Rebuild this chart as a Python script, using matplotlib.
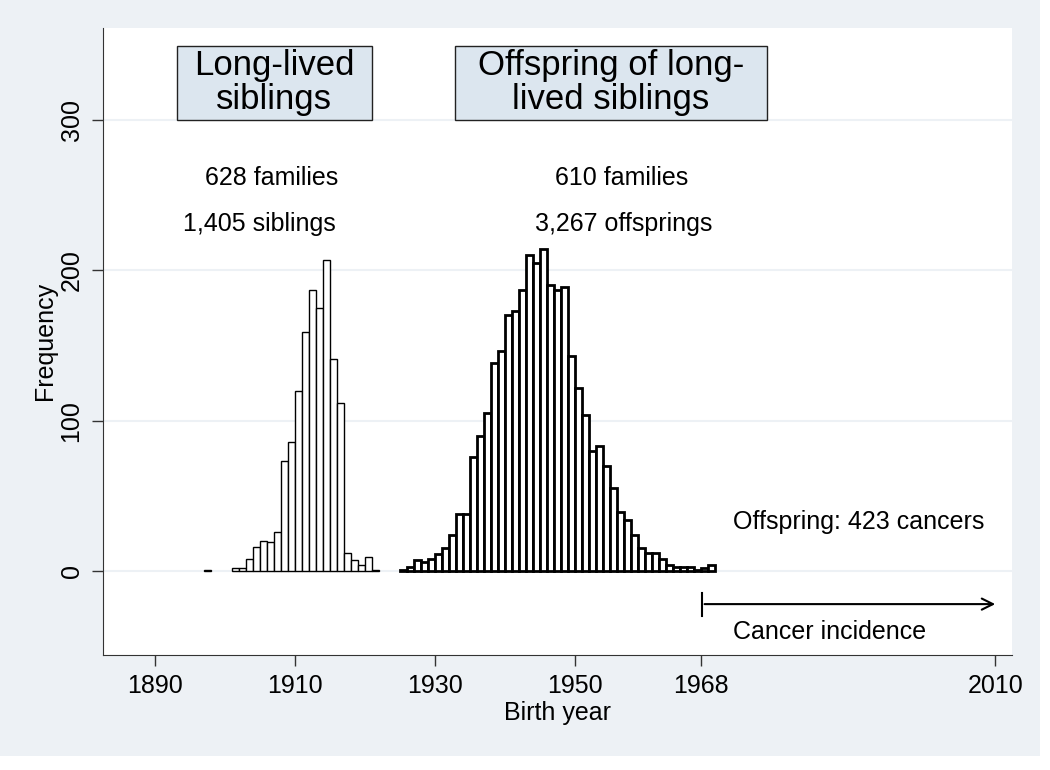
import matplotlib.pyplot as plt
from matplotlib.patches import Rectangle

# anos (borda esquerda de cada barra, largura 1 ano) e frequencias
sib_years = [1897] + list(range(1901, 1922))
sib_freq = [1, 2, 2, 8, 16, 20, 19, 26, 73, 86, 120, 159, 187, 175, 207, 141, 112, 12, 7, 4, 9, 1]

off_years = list(range(1925, 1970))
off_freq = [1, 3, 7, 6, 8, 11, 15, 24, 38, 38, 76, 90, 105, 138, 146, 170, 173, 187, 210, 205,
            214, 190, 187, 189, 143, 122, 104, 80, 83, 70, 55, 39, 34, 24, 15, 12, 12, 8, 4, 3,
            3, 3, 1, 2, 4]

xticks = [1890, 1910, 1930, 1950, 1968, 2010]
yticks = [0, 100, 200, 300]

bg = '#edf1f5'
plt.rcParams['font.family'] = ['Liberation Sans', 'DejaVu Sans']

fig = plt.figure(figsize=(10.5, 7.7), dpi=100)
fig.patch.set_facecolor('white')
# fundo cinza-azulado estilo stata (nao cobre a faixa branca da direita/baixo)
fig.patches.append(Rectangle((0, 1 - 756 / 770), 1040 / 1050, 756 / 770, transform=fig.transFigure,
                             facecolor=bg, edgecolor='none', zorder=-10))
ax = fig.add_axes([103 / 1050, 1 - 654.5 / 770, 909 / 1050, 626.5 / 770])
ax.set_facecolor('white')

ax.bar(sib_years, sib_freq, width=1, align='edge', color='white', edgecolor='black', linewidth=1, zorder=3)
ax.bar(off_years, off_freq, width=1, align='edge', color='white', edgecolor='black', linewidth=2, zorder=3)

ax.set_xlim(1882.6, 2012.4)
ax.set_ylim(-55.5, 361)
ax.set_xticks(xticks)
ax.set_yticks(yticks)
ax.tick_params(axis='both', labelsize=18, length=8, width=1, color='#333333', pad=6)
plt.setp(ax.get_yticklabels(), rotation=90, va='center')
ax.grid(axis='y', color=bg, linewidth=1.5, zorder=0)
ax.set_axisbelow(True)
for s in ['top', 'right']:
    ax.spines[s].set_visible(False)
for s in ['left', 'bottom']:
    ax.spines[s].set_color('#333333')
ax.set_xlabel('Birth year', fontsize=18, labelpad=2)
ax.set_ylabel('Frequency', fontsize=18)
ax.yaxis.set_label_coords(-0.051, 0.5)

# caixas de titulo
boxfill = '#dce6ef'
ax.add_patch(Rectangle((1893.1, 300), 27.9, 49.2, facecolor=boxfill, edgecolor='#222222', linewidth=1, zorder=4))
ax.text(1907.05, 324.6, 'Long-lived\nsiblings', ha='center', va='center', fontsize=25,
        linespacing=1.02, zorder=5)
ax.add_patch(Rectangle((1932.9, 300), 44.5, 49.2, facecolor=boxfill, edgecolor='#222222', linewidth=1, zorder=4))
ax.text(1955.15, 324.6, 'Offspring of long-\nlived siblings', ha='center', va='center', fontsize=25,
        linespacing=1.02, zorder=5)

ax.text(1906.7, 261.4, '628 families', ha='center', va='center', fontsize=18)
ax.text(1904.9, 230.8, '1,405 siblings', ha='center', va='center', fontsize=18)
ax.text(1956.7, 261.4, '610 families', ha='center', va='center', fontsize=18)
ax.text(1956.9, 230.8, '3,267 offsprings', ha='center', va='center', fontsize=18)
ax.text(1972.6, 32.6, 'Offspring: 423 cancers', ha='left', va='center', fontsize=18)
ax.text(1972.6, -40.6, 'Cancer incidence', ha='left', va='center', fontsize=18)

# seta da incidencia
ax.plot([1968.1, 1968.1], [-14.6, -30], color='black', linewidth=1.5)
ax.annotate('', xy=(2010.4, -22), xytext=(1968.1, -22),
            arrowprops=dict(arrowstyle='->', color='black', linewidth=1.5, mutation_scale=20))

fig.savefig('out.png', dpi=100, facecolor=fig.get_facecolor())
